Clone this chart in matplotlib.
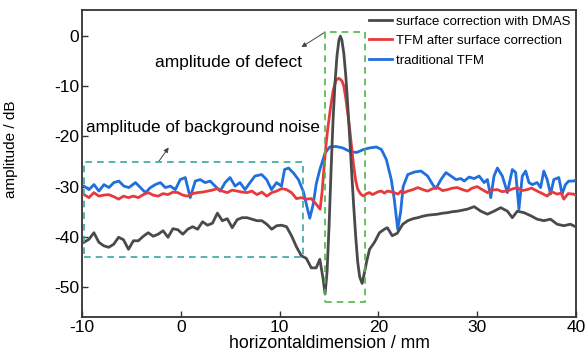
import matplotlib
matplotlib.use("Agg")
import matplotlib.pyplot as plt
from matplotlib.patches import Rectangle

plt.rcParams['font.family'] = ['Liberation Sans', 'DejaVu Sans']
plt.rcParams['axes.unicode_minus'] = False

# surface correction with DMAS (grey)
dmas_x = [-9.8, -9.3, -8.8, -8.3, -7.8, -7.3, -6.8, -6.3, -5.8, -5.3, -4.8, -4.3,
          -3.8, -3.3, -2.8, -2.3, -1.8, -1.3, -0.8, -0.3, 0.2, 0.7, 1.2, 1.7,
          2.2, 2.7, 3.2, 3.7, 4.2, 4.7, 5.2, 5.7, 6.2, 6.7, 7.2, 7.7,
          8.2, 8.7, 9.2, 9.7, 10.2, 10.7, 11.2, 11.7, 12.2, 12.7, 13.2, 13.7,
          14.07, 14.4, 14.6, 14.8, 15.0, 15.2, 15.4, 15.6, 15.8, 16.0, 16.15, 16.3,
          16.5, 16.7, 16.9, 17.1, 17.3, 17.5, 17.7, 17.9, 18.1, 18.35, 18.6, 18.8,
          19.1, 19.6, 20.1, 20.6, 20.9, 21.4, 21.9, 22.46, 22.97, 23.5, 23.98, 24.5,
          24.98, 25.5, 25.99, 26.5, 27.0, 27.5, 28.0, 28.5, 29.0, 29.69, 30.36, 31.03,
          31.7, 32.38, 33.05, 33.55, 34.06, 34.73, 35.4, 36.07, 36.74, 37.42, 38.09, 38.76,
          39.43, 39.94]
dmas_y = [-41.1, -40.5, -39.2, -41.1, -41.8, -42.1, -41.5, -40.1, -40.6, -42.5, -40.8, -40.8,
          -39.9, -39.2, -39.9, -39.5, -38.8, -40.1, -38.4, -38.6, -39.5, -38.5, -38.0, -38.5,
          -37.0, -37.7, -37.3, -35.3, -36.8, -36.4, -38.2, -36.6, -36.2, -36.2, -36.5, -36.8,
          -36.8, -37.5, -38.5, -37.8, -37.7, -38.0, -39.8, -42.0, -43.8, -44.3, -46.2, -46.2,
          -44.5, -48.4, -51.4, -47.0, -38.0, -27.0, -17.0, -9.5, -4.0, -0.8, 0.0, -0.8,
          -3.5, -8.0, -14.0, -20.5, -27.5, -34.0, -40.0, -45.0, -48.0, -49.3, -47.0, -45.0,
          -42.5, -41.1, -39.2, -38.5, -38.2, -39.8, -39.3, -37.5, -36.8, -36.4, -36.2, -35.9,
          -35.7, -35.6, -35.5, -35.3, -35.2, -35.0, -34.9, -34.7, -34.5, -34.0, -34.9, -35.5,
          -34.9, -34.2, -34.9, -36.2, -34.9, -35.2, -35.8, -36.5, -36.8, -36.5, -37.5, -37.8,
          -37.5, -38.0]

# TFM after surface correction (red)
corr_x = [-9.8, -9.3, -8.8, -8.3, -7.8, -7.3, -6.8, -6.3, -5.8, -5.3, -4.8, -4.3,
          -3.8, -3.3, -2.8, -2.3, -1.8, -1.3, -0.8, -0.3, 0.2, 0.7, 1.2, 1.7,
          2.2, 2.7, 3.2, 3.7, 4.2, 4.7, 5.2, 5.7, 6.2, 6.7, 7.2, 7.7,
          8.2, 8.7, 9.2, 9.7, 10.2, 10.7, 11.2, 11.7, 12.2, 12.7, 13.2, 13.7,
          14.1, 14.3, 14.5, 14.7, 14.9, 15.1, 15.4, 15.7, 16.0, 16.3, 16.5, 16.7,
          16.9, 17.1, 17.3, 17.5, 17.7, 17.9, 18.2, 18.5, 18.8, 19.1, 19.4, 19.7,
          20.0, 20.3, 20.6, 20.9, 21.2, 21.6, 21.96, 22.3, 22.6, 22.97, 23.5, 23.98,
          24.5, 24.98, 25.5, 25.99, 26.5, 27.0, 27.5, 28.0, 28.5, 29.0, 29.5, 30.0,
          30.5, 31.03, 31.5, 32.04, 32.5, 33.05, 33.5, 34.06, 34.5, 35.06, 35.5, 36.07,
          36.6, 37.08, 37.5, 38.09, 38.5, 38.76, 39.2, 39.77, 40.0]
corr_y = [-31.6, -32.2, -31.2, -31.9, -31.7, -31.6, -32.0, -32.5, -31.9, -32.2, -31.9, -32.2,
          -31.6, -31.2, -31.7, -31.9, -31.4, -31.6, -31.1, -31.2, -31.7, -31.9, -31.4, -31.2,
          -31.1, -30.9, -30.7, -30.4, -30.9, -31.2, -30.7, -30.9, -31.1, -31.2, -30.9, -31.6,
          -31.1, -31.9, -31.2, -30.9, -30.4, -30.6, -31.2, -32.4, -32.2, -32.5, -32.4, -33.5,
          -34.5, -31.0, -26.0, -21.5, -18.0, -15.0, -11.0, -8.8, -8.4, -8.9, -10.0, -12.5,
          -15.5, -18.7, -22.5, -26.0, -28.8, -30.5, -31.5, -31.9, -31.4, -31.2, -31.6, -31.3,
          -31.0, -30.9, -31.3, -30.9, -31.0, -31.2, -31.5, -30.9, -31.2, -30.9, -30.6, -30.2,
          -30.6, -30.9, -30.4, -30.2, -30.8, -30.6, -30.3, -30.2, -30.6, -30.9, -30.3, -30.0,
          -30.6, -31.2, -30.7, -30.6, -31.0, -30.9, -30.5, -30.2, -30.8, -30.6, -30.3, -30.9,
          -31.4, -31.9, -31.0, -31.5, -31.3, -32.5, -31.4, -31.5, -31.8]

# traditional TFM (blue)
tfm_x = [-9.8, -9.3, -8.79, -8.29, -7.78, -7.28, -6.78, -6.27, -5.77, -5.26, -4.59, -4.09,
         -3.58, -3.08, -2.58, -2.07, -1.57, -1.06, -0.56, -0.06, 0.45, 0.95, 1.46, 1.96,
         2.46, 2.97, 3.47, 3.98, 4.48, 4.98, 5.49, 5.99, 6.5, 7.0, 7.5, 8.18,
         8.68, 9.18, 9.69, 10.19, 10.5, 10.9, 11.4, 11.9, 12.4, 12.7, 13.05, 13.4,
         13.7, 14.07, 14.6, 15.07, 15.7, 16.4, 17.1, 17.8, 18.5, 19.1, 19.8, 20.3,
         20.8, 21.3, 21.6, 21.95, 22.25, 22.5, 22.97, 23.64, 24.31, 24.98, 25.49, 25.82,
         26.33, 26.83, 27.34, 27.84, 28.34, 28.68, 29.18, 29.69, 30.19, 30.7, 31.03, 31.37,
         31.7, 32.04, 32.54, 33.05, 33.55, 33.89, 34.22, 34.56, 34.9, 35.23, 35.57, 36.07,
         36.41, 36.74, 37.08, 37.42, 37.75, 38.26, 38.59, 38.93, 39.26, 39.77, 40.0]
tfm_y = [-29.9, -30.6, -29.6, -30.9, -29.6, -30.2, -29.2, -28.9, -29.9, -30.2, -29.2, -30.2,
         -31.2, -30.2, -29.6, -29.2, -30.2, -29.9, -30.6, -28.6, -28.2, -32.2, -28.9, -28.6,
         -29.2, -28.9, -29.9, -30.9, -29.2, -28.2, -29.9, -29.2, -30.6, -29.2, -27.9, -27.6,
         -28.6, -30.6, -29.2, -29.9, -26.6, -26.3, -27.3, -28.6, -31.0, -33.5, -36.3, -33.5,
         -29.5, -26.6, -23.3, -22.1, -22.0, -22.3, -23.0, -23.2, -22.6, -22.3, -22.1, -22.6,
         -24.6, -28.6, -32.5, -38.5, -35.0, -30.0, -27.6, -27.1, -26.9, -27.9, -29.6, -30.4,
         -28.6, -27.2, -27.9, -28.6, -28.4, -28.9, -28.1, -28.4, -27.9, -29.2, -28.6, -32.2,
         -27.9, -26.3, -27.9, -31.2, -26.6, -27.2, -34.5, -27.9, -26.9, -29.2, -29.6, -29.2,
         -30.2, -26.9, -28.6, -31.5, -28.6, -28.2, -31.5, -29.6, -28.9, -28.9, -28.6]

x_ticks = [-10, 0, 10, 20, 30, 40]
y_ticks = [0, -10, -20, -30, -40, -50]

fig = plt.figure(figsize=(5.86, 3.58), dpi=100)
ax = fig.add_axes([0.140, 0.1145, 0.843, 0.8575])

ax.plot(tfm_x, tfm_y, color='#1f6fdc', lw=2.0, label='traditional TFM', zorder=3)
ax.plot(corr_x, corr_y, color='#e83a3c', lw=2.0, label='TFM after surface correction', zorder=4)
ax.plot(dmas_x, dmas_y, color='#4a4a4a', lw=2.0, label='surface correction with DMAS', zorder=5)

# dashed boxes
ax.add_patch(Rectangle((14.6, -53.0), 4.0, 53.8, fill=False, ls=(0, (4, 3)),
                       ec='#4db848', lw=1.2, zorder=6))
ax.add_patch(Rectangle((-9.8, -44.0), 22.2, 19.0, fill=False, ls=(0, (4, 3)),
                       ec='#3aa6a0', lw=1.2, zorder=6))

ax.annotate('', xy=(12.2, -2.2), xytext=(14.6, 0.8),
            arrowprops=dict(arrowstyle='-|>', color='#444444', lw=0.7,
                            mutation_scale=7, shrinkA=0, shrinkB=0))
ax.text(4.8, -5.3, 'amplitude of defect', fontsize=12.5, ha='center', va='center')
ax.annotate('', xy=(-1.23, -22.2), xytext=(-2.24, -25.0),
            arrowprops=dict(arrowstyle='-|>', color='#444444', lw=0.7,
                            mutation_scale=7, shrinkA=0, shrinkB=0))
ax.text(-9.6, -18.3, 'amplitude of background noise', fontsize=12.3, ha='left', va='center')

ax.set_xlim(-10, 40)
ax.set_ylim(-56, 5.2)
ax.set_xticks(x_ticks)
ax.set_yticks(y_ticks)
ax.tick_params(direction='in', length=4, width=1, labelsize=12.5, pad=2, color='#333333')
for s in ax.spines.values():
    s.set_linewidth(1.3)
    s.set_color('#333333')

ax.set_xlabel('horizontaldimension / mm', fontsize=12.7, labelpad=0)
ax.set_ylabel('amplitude / dB', fontsize=11)
ax.yaxis.set_label_coords(-0.129, 0.547)

h, l = ax.get_legend_handles_labels()
ax.legend(h[::-1], l[::-1], loc='upper right', frameon=False, fontsize=9.5,
          handlelength=1.7, handletextpad=0.35, labelspacing=0.55,
          borderaxespad=0.0, bbox_to_anchor=(1.0, 1.0))

fig.savefig('out.png', dpi=100)
